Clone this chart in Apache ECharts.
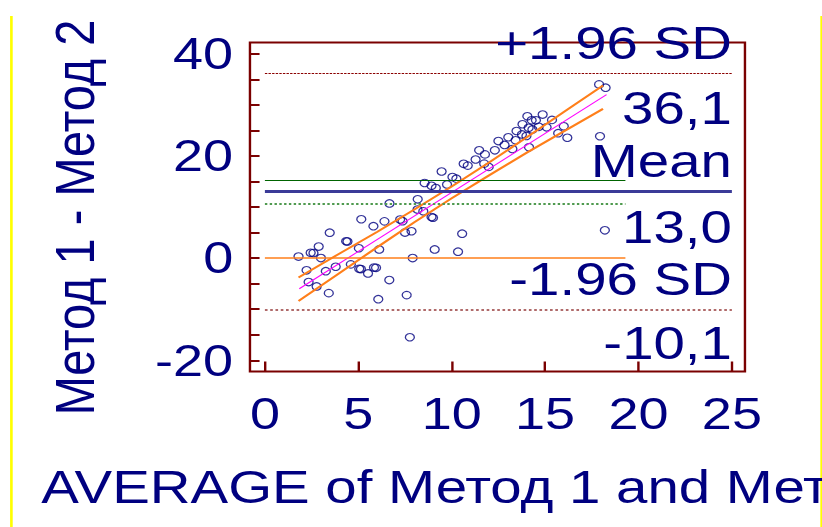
<!DOCTYPE html>
<html>
<head>
<meta charset="utf-8">
<script src="https://cdn.jsdelivr.net/npm/echarts@6/dist/echarts.min.js"></script>
<style>
  html, body { margin: 0; padding: 0; background: #fff; overflow: hidden; }
  /* the plot is laid out narrow and widened horizontally as a whole */
  #chart { width: 685px; height: 527px; transform: scaleX(1.2); transform-origin: 0 0; }
</style>
</head>
<body>
<div id="chart"></div>
<script>
// Bland–Altman data: average of the two methods vs. their difference
const averages = [
  1.8, 2.45, 2.6, 2.88, 3.0, 2.23, 2.34, 2.77, 3.42, 3.26,
  3.79, 3.47, 4.35, 4.42, 4.6, 5.03, 5.05, 5.14, 5.16, 5.52,
  5.81, 5.84, 5.95, 6.07, 6.12, 6.4, 6.67, 6.66, 7.24, 7.37,
  7.5, 7.85, 7.59, 7.76, 7.91, 8.18, 8.17, 8.48, 8.92, 9.0,
  9.09, 8.55, 8.92, 9.15, 9.46, 9.75, 10.04, 10.25, 10.34, 10.56,
  10.64, 10.86, 11.28, 11.47, 11.78, 11.74, 11.98, 12.31, 12.5, 12.83,
  13.03, 13.25, 13.42, 13.47, 13.76, 13.79, 14.05, 14.12, 14.14, 14.28,
  14.32, 14.51, 14.66, 14.87, 15.08, 15.37, 15.7, 16.0, 16.19, 17.89,
  18.24, 17.94, 18.2, 14.0
];
const differences = [
  0.3, 1.05, 1.0, 2.25, 0.0, -2.4, -4.7, -5.55, -6.86, -2.57,
  -1.7, 4.97, 3.3, 3.25, -1.23, 1.93, -2.1, -2.15, 7.6, -3.0,
  6.24, -1.85, -1.9, -8.05, 1.7, 7.19, 10.7, -4.3, 7.55, 7.22,
  5.0, 5.25, -7.25, -15.5, 0.0, 11.5, 9.5, 9.15, 8.03, 7.9,
  1.7, 14.7, 14.15, 13.7, 16.95, 14.42, 15.87, 15.55, 1.25, 4.78,
  18.45, 18.1, 19.3, 21.1, 20.3, 18.49, 17.85, 21.1, 22.9, 22.15,
  23.65, 21.35, 23.06, 24.88, 24.2, 26.2, 27.76, 25.5, 21.7, 26.97,
  25.18, 26.97, 25.7, 28.1, 25.6, 27.05, 24.45, 25.8, 23.55, 34.0,
  33.35, 23.85, 5.43, 23.9
];

// Summary statistics
const meanDiff = 13.0;
const upperLimit = 36.1;    // mean + 1.96 SD
const lowerLimit = -10.1;   // mean - 1.96 SD
const meanCI = [10.7, 15.2];
const zeroDiff = 0;

// Horizontal extents of the reference lines (x units)
const limitSpan = [0, 25];
const shortSpan = [0, 19.3];

// Regression of difference on average, with its confidence band
const regressionLine = [[1.84, -6.0], [18.29, 32.0]];
const bandUpper = [[1.8, -3.8], [4, 0.9], [6, 5.1], [8, 9.5], [10, 14.0], [12, 18.7], [14, 23.6], [16, 28.6], [18.1, 33.8]];
const bandLower = [[1.8, -8.4], [4, -2.9], [6, 2.1], [8, 7.0], [10, 11.7], [12, 16.2], [14, 20.6], [16, 24.8], [18.1, 29.2]];

// Axis ticks
const xTickValues = [0, 5, 10, 15, 20, 25];
const yLabelValues = [-20, 0, 20, 40];
const yTickValues = [-20, -15, -10, -5, 0, 5, 10, 15, 20, 25, 30, 35, 40];

const NAVY = '#000080';
const MAROON = '#7a0000';
const FONT = "'Liberation Sans', Arial, sans-serif";

const fmt = v => v.toFixed(1).replace('.', ',');

function hLine(y, span, lineStyle, label) {
  return [
    { coord: [span[0], y], lineStyle: lineStyle, label: label || { show: false } },
    { coord: [span[1], y] }
  ];
}
function sideLabel(text, pos, dy) {
  return {
    show: true, position: pos, formatter: text, distance: [0, dy],
    color: NAVY, fontSize: 47, fontFamily: FONT
  };
}
// carries only a label: the line itself is not painted
const labelOnly = { color: 'rgba(0,0,0,0)', width: 0 };

const chart = echarts.init(document.getElementById('chart'), null, { renderer: 'svg' });

chart.setOption({
  backgroundColor: '#fff',
  animation: false,
  grid: {
    left: 208.3, top: 42.5, width: 412.5, height: 329,
    outerBoundsMode: 'none', containLabel: false,
    show: true, borderColor: MAROON, borderWidth: 2, backgroundColor: 'transparent'
  },
  xAxis: {
    type: 'value', min: -0.8, max: 25.7,
    splitLine: { show: false },
    axisLine: { show: false, onZero: false },
    axisTick: { inside: true, length: 10, customValues: xTickValues, lineStyle: { color: MAROON, width: 2 } },
    axisLabel: { customValues: xTickValues, color: NAVY, fontSize: 45, fontFamily: FONT, margin: 20 },
    name: 'AVERAGE of Метод 1 and Метод 2',
    nameLocation: 'middle', nameGap: 92,
    nameTextStyle: { color: NAVY, fontSize: 47, fontFamily: FONT, padding: [0, 13, 0, 0] }
  },
  yAxis: {
    type: 'value', min: -22.2, max: 42.2,
    splitLine: { show: false },
    axisLine: { show: false, onZero: false },
    axisTick: { inside: true, length: 8, customValues: yTickValues, lineStyle: { color: MAROON, width: 2 } },
    axisLabel: { customValues: yLabelValues, color: NAVY, fontSize: 45, fontFamily: FONT, margin: 14 },
    name: 'Метод 1 - Метод 2',
    nameLocation: 'middle', nameRotate: 90, nameGap: 123,
    nameTextStyle: { color: NAVY, fontSize: 47, fontFamily: FONT, padding: [0, 21, 0, 0] }
  },
  graphic: [
    { type: 'rect', shape: { x: 8.4, y: 16, width: 2.2, height: 511 }, style: { fill: '#ffff00' } },
    { type: 'rect', shape: { x: 683.6, y: 16, width: 1.4, height: 511 }, style: { fill: '#ffff00' } }
  ],
  series: [
    {
      type: 'line', data: [], clip: false, silent: true,
      markLine: {
        silent: true, symbol: ['none', 'none'], animation: false,
        data: [
          hLine(upperLimit, limitSpan, { color: '#8b0000', width: 1, type: [2, 1] }, sideLabel('+1.96 SD', 'insideEndTop', 7)),
          hLine(upperLimit, limitSpan, labelOnly, sideLabel(fmt(upperLimit), 'insideEndBottom', 10.5)),
          hLine(meanCI[1], shortSpan, { color: '#006400', width: 1, type: 'solid' }),
          hLine(meanCI[0], shortSpan, { color: '#4f9a4f', width: 2, type: 'dotted' }),
          hLine(meanDiff, limitSpan, { color: '#3b3b98', width: 3, type: 'solid' }, sideLabel('Mean', 'insideEndTop', 7.5)),
          hLine(meanDiff, limitSpan, labelOnly, sideLabel(fmt(meanDiff), 'insideEndBottom', 12)),
          hLine(zeroDiff, shortSpan, { color: '#ff7f1a', width: 1.5, type: 'solid' }),
          hLine(lowerLimit, limitSpan, { color: '#b06a6a', width: 2.2, type: 'dotted' }, sideLabel('-1.96 SD', 'insideEndTop', 7)),
          hLine(lowerLimit, limitSpan, labelOnly, sideLabel(fmt(lowerLimit), 'insideEndBottom', 10))
        ]
      }
    },
    {
      type: 'scatter',
      data: averages.map((a, i) => [a, differences[i]]),
      symbol: 'circle', symbolSize: 7.5,
      itemStyle: { color: 'rgba(255,255,255,0)', borderColor: NAVY, borderWidth: 1.1 },
      z: 3
    },
    {
      type: 'line', data: bandUpper, symbol: 'none', z: 4,
      lineStyle: { color: '#ff7f1a', width: 2 }
    },
    {
      type: 'line', data: bandLower, symbol: 'none', z: 4,
      lineStyle: { color: '#ff7f1a', width: 2 }
    },
    {
      type: 'line', data: regressionLine, symbol: 'none', z: 4,
      lineStyle: { color: '#ff00ff', width: 1 }
    }
  ]
});
</script>
</body>
</html>
